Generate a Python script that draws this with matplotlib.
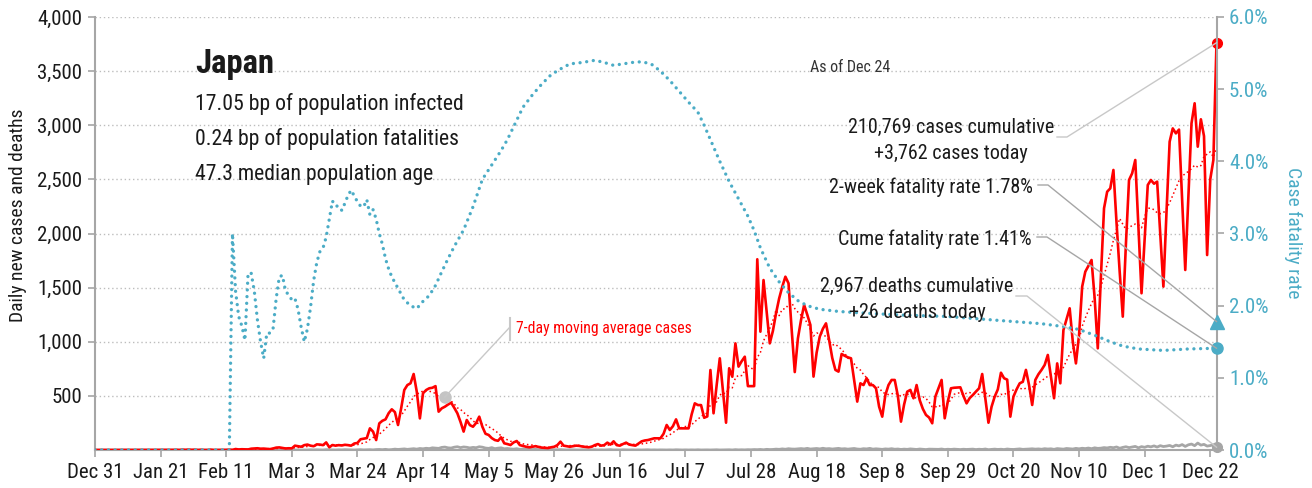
import matplotlib
matplotlib.use('Agg')
import matplotlib.pyplot as plt
from matplotlib.lines import Line2D
import numpy as np
import pandas as pd

plt.rcParams['font.family'] = ['Roboto Condensed', 'Liberation Sans Narrow', 'DejaVu Sans']
plt.rcParams['font.stretch'] = 'condensed'

# ---------------- data ----------------
tick_days = [0, 21, 42, 63, 84, 105, 126, 147, 168, 189, 210, 231, 252, 273, 294, 315, 336, 357]
tick_labels = ['Dec 31', 'Jan 21', 'Feb 11', 'Mar 3', 'Mar 24', 'Apr 14', 'May 5', 'May 26',
               'Jun 16', 'Jul 7', 'Jul 28', 'Aug 18', 'Sep 8', 'Sep 29', 'Oct 20', 'Nov 10',
               'Dec 1', 'Dec 22']

# daily new cases, day 0 = Dec 31 2019 ... day 359 = Dec 24 2020
daily_cases = [
    0, 0, 0, 0, 0, 0, 0,
    0, 0, 0, 0, 0, 0, 0,
    0, 0, 1, 0, 0, 0, 0,
    0, 0, 0, 1, 1, 2, 0,
    3, 1, 4, 1, 3, 0, 2,
    0, 0, 3, 0, 0, 0, 1,
    1, 3, 1, 9, 5, 7, 6,
    5, 12, 14, 16, 12, 13, 10,
    8, 14, 22, 24, 19, 14, 16,
    15, 40, 35, 30, 45, 50, 40,
    35, 52, 50, 45, 70, 25, 46,
    40, 45, 42, 48, 45, 40, 60,
    65, 99, 105, 110, 200, 170, 92,
    246, 270, 283, 340, 376, 350, 231,
    385, 554, 600, 616, 702, 539, 292,
    524, 554, 570, 575, 590, 354, 385,
    400, 420, 437, 390, 339, 260, 170,
    277, 230, 215, 250, 308, 215, 150,
    139, 110, 92, 85, 117, 62, 55,
    46, 70, 83, 45, 37, 30, 25,
    30, 35, 28, 22, 20, 18, 25,
    30, 45, 77, 40, 35, 30, 35,
    40, 38, 32, 28, 25, 30, 45,
    55, 40, 45, 68, 50, 80, 45,
    40, 55, 68, 50, 45, 40, 60,
    80, 88, 92, 100, 108, 108, 108,
    150, 231, 185, 220, 283, 200, 200,
    200, 200, 330, 431, 415, 415, 298,
    310, 739, 339, 600, 847, 550, 252,
    755, 677, 985, 770, 820, 862, 590,
    590, 590, 1762, 1093, 1570, 1280, 985,
    1100, 1262, 1400, 1509, 1601, 1540, 1115,
    720, 1030, 1200, 1340, 1250, 1155, 678,
    900, 1047, 1120, 1170, 1016, 850, 740,
    724, 887, 870, 856, 847, 650, 447,
    616, 600, 663, 600, 600, 570, 400,
    308, 508, 600, 647, 647, 500, 262,
    420, 539, 555, 478, 600, 460, 380,
    324, 300, 247, 493, 570, 647, 293,
    450, 570, 575, 577, 579, 500, 431,
    480, 508, 540, 570, 702, 480, 252,
    400, 493, 560, 714, 663, 650, 308,
    493, 560, 616, 630, 740, 600, 416,
    647, 700, 740, 786, 878, 680, 478,
    800, 616, 1108, 1210, 1309, 1000, 800,
    1062, 1509, 1647, 1700, 1755, 1400, 939,
    1600, 2233, 2386, 2417, 2587, 2100, 1650,
    1232, 1900, 2494, 2556, 2679, 2060, 1448,
    1950, 2448, 2494, 2460, 2479, 2000, 1509,
    2200, 2848, 2971, 2925, 2960, 2300, 1663,
    2350, 3018, 3203, 2802, 3055, 2900, 1801,
    2500, 2679, 3762,
]

daily_deaths = (
    [0] * 44 +
    [1, 0, 0, 0, 0, 0, 0, 0, 1, 0, 0, 0,
     1, 0, 1, 0, 1, 0, 1, 1, 0, 0, 1, 1, 0, 2,
     1, 2, 1, 0, 3, 2, 1, 0, 2, 1, 3, 2, 1, 0, 2, 3, 1, 2, 3, 1, 4,
     5, 3, 6, 2, 4, 8, 5, 7, 10, 6, 9, 12, 8, 14, 11, 16, 13, 20, 18, 15, 24,
     27, 20, 18, 26, 30, 22, 28, 25, 19, 24, 21, 30, 26, 18, 15, 22, 12, 17, 20, 11, 14,
     10, 8, 12, 6, 9, 5, 7, 4, 6, 3, 5, 2, 4, 3, 1, 2, 3, 1, 0, 2, 1,
     1, 0, 2, 1, 0, 1, 2, 0, 1, 0, 1, 3, 0, 1, 0, 2, 1, 0, 1, 0, 1,
     0, 1, 2, 0, 1, 0, 1, 0, 0, 1, 0, 2, 1, 0, 1, 0, 1, 0, 2, 0, 1,
     1, 0, 1, 2, 0, 1, 1, 2, 0, 3, 1, 2, 1, 3, 2, 4, 3, 5, 2, 6, 4,
     5, 8, 6, 10, 7, 12, 9, 8, 11, 13, 10, 15, 9, 12, 14, 10, 16, 11, 13, 9, 12,
     15, 10, 12, 8, 11, 14, 9, 7, 12, 10, 15, 8, 11, 9, 6, 10, 8, 12, 7, 9, 5,
     8, 6, 10, 7, 5, 9, 6, 4, 8, 7, 5, 6, 9, 4, 7, 5, 8, 6, 4, 7, 5,
     6, 8, 4, 7, 5, 9, 3, 6, 8, 5, 7, 4, 9, 6, 5, 8, 10, 6, 7, 9, 11,
     8, 10, 7, 12, 9, 11, 6, 13, 10, 8, 14, 12, 9, 15, 11, 16, 13, 18, 12, 20, 15,
     17, 22, 19, 25, 21, 28, 16, 24, 30, 22, 27, 33, 20, 31, 25, 35, 29, 38, 27, 40, 32,
     36, 42, 30, 45, 38, 50, 33, 48, 55, 40, 64, 45, 52, 36,
     41, 48, 26]
)

# case fatality rate (%)
cfr_days = [0, 43, 44, 45, 46, 47, 48, 49, 50, 51, 52, 53, 54, 55, 56, 57, 58, 59, 60, 61, 62,
            63, 64, 65, 66, 67, 68, 69, 70, 71, 72, 73, 74, 75, 76, 77, 78, 79, 80, 81, 82,
            83, 84, 85, 86, 87, 88, 89, 90, 91, 92, 93, 94, 95, 96, 97, 99, 101, 103, 105,
            107, 109, 111, 113, 115, 118, 121, 124, 127, 130, 132, 135, 137, 140, 143, 146,
            149, 152, 156, 160, 163, 166, 169, 172, 175, 178, 181, 184, 187, 190, 193, 195,
            198, 200, 203, 206, 209, 211, 213, 216, 219, 222, 225, 228, 232, 238, 245, 258,
            273, 288, 303, 310, 315, 320, 325, 329, 334, 342, 350, 359]
cfr_pct = [0, 0, 3.0, 2.2, 1.85, 1.72, 1.52, 2.45, 2.45, 2.2, 1.8, 1.5, 1.27, 1.62, 1.62,
           1.68, 2.1, 2.4, 2.42, 2.2, 2.15, 2.08, 2.1, 1.95, 1.7, 1.5, 1.68, 1.98, 2.35, 2.6,
           2.75, 2.8, 2.95, 3.2, 3.45, 3.38, 3.38, 3.32, 3.42, 3.53, 3.6, 3.52, 3.44, 3.38,
           3.37, 3.47, 3.26, 3.33, 3.2, 3.0, 2.85, 2.65, 2.51, 2.4, 2.32, 2.24, 2.08, 2.0,
           1.96, 2.06, 2.14, 2.28, 2.47, 2.65, 2.82, 3.05, 3.37, 3.75, 3.95, 4.15, 4.3, 4.57,
           4.75, 4.92, 5.07, 5.2, 5.28, 5.35, 5.37, 5.4, 5.37, 5.33, 5.35, 5.37, 5.38, 5.35,
           5.25, 5.12, 4.97, 4.82, 4.68, 4.5, 4.2, 4.0, 3.72, 3.48, 3.24, 3.04, 2.8, 2.52,
           2.33, 2.18, 2.07, 2.0, 1.95, 1.92, 1.9, 1.87, 1.85, 1.8, 1.75, 1.71, 1.67, 1.59,
           1.5, 1.44, 1.4, 1.38, 1.4, 1.41]

fatality_2wk = 1.78
cases_cumulative = 210769
deaths_cumulative = 2967
country = 'Japan'
stats_lines = ['17.05 bp of population infected',
               '0.24 bp of population fatalities',
               '47.3 median population age']
as_of = 'As of Dec 24'

# ---------------- styling ----------------
RED = '#FF0000'
TEAL = '#4BACC6'
GRAY = '#A6A6A6'
LGRAY = '#C8C8C8'
TXT = '#1a1a1a'
W, H = 1312, 488

days = np.arange(len(daily_cases))
cases = pd.Series(daily_cases, index=days, dtype=float)
deaths = pd.Series(daily_deaths, index=days, dtype=float)
ma7 = cases.rolling(7).mean()

fig = plt.figure(figsize=(W / 100, H / 100), dpi=100)
ax = fig.add_axes([95 / W, 38 / H, (1216.5 - 95) / W, 433 / H])
ax2 = ax.twinx()

ax.set_xlim(0, 359)
ax.set_ylim(0, 4000)
ax2.set_ylim(0, 6)

for v in range(500, 4001, 500):
    ax.axhline(v, color='#BDBDBD', lw=1.0, ls=(0, (1, 2)), zorder=0)

ax.plot(days, deaths.values, color=GRAY, lw=2.0, zorder=2, solid_joinstyle='round')
ax.plot(days, ma7.values, color=RED, lw=1.1, ls=(0, (1, 1.8)), zorder=3)
ax.plot(days, cases.values, color=RED, lw=1.9, zorder=4, solid_joinstyle='round')

ax2.plot(cfr_days, cfr_pct, color=TEAL, lw=2.4, ls=(0, (0.01, 2.0)),
         dash_capstyle='round', zorder=3)

ax.plot(days[-1], cases.values[-1], 'o', color=RED, ms=7, clip_on=False, zorder=6)
ax.plot(days[-1], deaths.values[-1], 'o', color=GRAY, ms=7, clip_on=False, zorder=6)
ax2.plot(cfr_days[-1], fatality_2wk, '^', color=TEAL, ms=10, clip_on=False, zorder=6)
ax2.plot(cfr_days[-1], cfr_pct[-1], 'o', color=TEAL, ms=8, clip_on=False, zorder=6)
ma_mark_day = 112
ax.plot(ma_mark_day, ma7.values[ma_mark_day], 'o', color='#C4C4C4', ms=8, zorder=6)

for a in (ax, ax2):
    a.spines['top'].set_visible(False)
ax.spines['left'].set_color(GRAY)
ax.spines['bottom'].set_color(GRAY)
ax.spines['right'].set_visible(False)
ax2.spines['left'].set_visible(False)
ax2.spines['bottom'].set_visible(False)
ax2.spines['right'].set_color(GRAY)
for s in ('left', 'bottom'):
    ax.spines[s].set_linewidth(1.5)
ax2.spines['right'].set_linewidth(1.5)

ax.set_xticks(tick_days)
ax.set_xticklabels(tick_labels)
ax.set_yticks(range(500, 4001, 500))
ax.set_yticklabels([f'{v:,}' for v in range(500, 4001, 500)])
ax2.set_yticks(range(0, 7))
ax2.set_yticklabels([f'{v:.1f}%' for v in range(0, 7)])

ax.tick_params(axis='x', length=5, width=1.2, color=GRAY, labelsize=15, labelcolor=TXT, pad=4)
ax.tick_params(axis='y', length=5, width=1.2, color=GRAY, labelsize=15, labelcolor=TXT, pad=4)
ax2.tick_params(axis='y', length=5, width=1.2, color=GRAY, labelsize=15, labelcolor=TEAL, pad=4)


def ftext(x, y, s, **kw):
    return fig.text(x / W, 1 - y / H, s, **kw)


ftext(18, 215, 'Daily new cases and deaths', rotation=90, ha='center', va='center',
      fontsize=14, color=TXT)
ftext(1293, 233, 'Case fatality rate', rotation=270, ha='center', va='center',
      fontsize=14, color=TEAL)

ftext(195, 73, country, fontsize=23.5, fontweight='bold', color=TXT, va='baseline')
for i, line in enumerate(stats_lines):
    ftext(195, 110 + 35 * i, line, fontsize=15.7, color=TXT, va='baseline')
ftext(810, 72, as_of, fontsize=11.5, color='#333333', va='baseline')

ftext(951, 133, f'{cases_cumulative:,} cases cumulative', fontsize=14.5, color=TXT,
      ha='center', va='baseline')
ftext(951, 159, f'+{int(daily_cases[-1]):,} cases today', fontsize=14.5, color=TXT,
      ha='center', va='baseline')
ftext(1033, 193, f'2-week fatality rate {fatality_2wk:.2f}%', fontsize=14.5, color=TXT,
      ha='right', va='baseline')
ftext(1032, 245, f'Cume fatality rate {cfr_pct[-1]:.2f}%', fontsize=14.5, color=TXT,
      ha='right', va='baseline')
ftext(917, 292, f'{deaths_cumulative:,} deaths cumulative', fontsize=14.5, color=TXT,
      ha='center', va='baseline')
ftext(917, 318, f'+{int(daily_deaths[-1])} deaths today', fontsize=14.5, color=TXT,
      ha='center', va='baseline')
ftext(516, 333, '7-day moving average cases', fontsize=11.3, color=RED, va='baseline')


def to_px(axis, x, y):
    dx, dy = axis.transData.transform((x, y))
    return dx, H - dy


def connector(points_px, color, lw=1.0):
    xs = [p[0] / W for p in points_px]
    ys = [1 - p[1] / H for p in points_px]
    fig.add_artist(Line2D(xs, ys, transform=fig.transFigure, color=color, lw=lw, zorder=5))


connector([(1057, 137), (1067, 137), to_px(ax, days[-1], cases.values[-1])], LGRAY)
connector([(1038, 185), (1048, 185), to_px(ax2, cfr_days[-1], fatality_2wk)], GRAY)
connector([(1037, 237), (1047, 237), to_px(ax2, cfr_days[-1], cfr_pct[-1])], GRAY)
connector([(1016, 296), (1027, 296), to_px(ax, days[-1], deaths.values[-1])], LGRAY)
connector([(510, 318), (510, 340)], LGRAY, lw=1.5)
connector([(510, 327), to_px(ax, ma_mark_day, ma7.values[ma_mark_day])], LGRAY)

fig.savefig('out.png', dpi=100)
